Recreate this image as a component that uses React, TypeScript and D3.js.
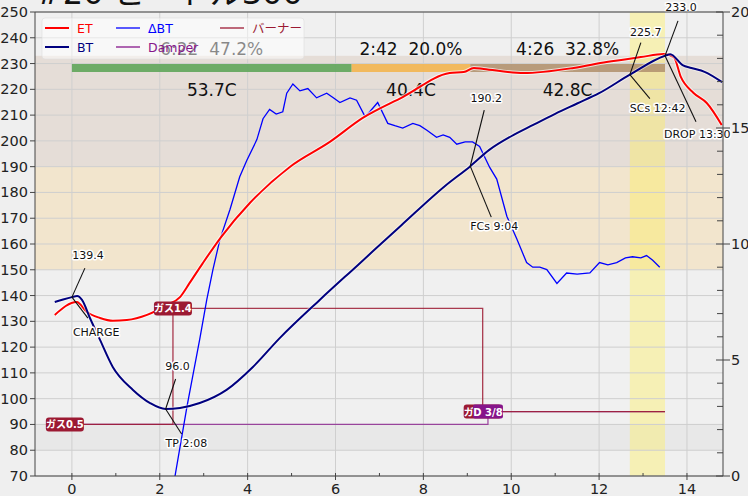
import React from 'react';
import * as d3 from 'd3';

// roast profile readings, [minutes, value]
const btPoints: [number, number][] = [
  [-0.39, 137.5], [-0.2, 138.5], [0.0, 139.4], [0.12, 139.8], [0.23, 138.3], [0.41, 131.3],
  [0.64, 122.8], [0.93, 112.3], [1.39, 103.4], [1.78, 98.3], [2.13, 96.0], [2.46, 96.4],
  [2.91, 98.3], [3.52, 103.4], [4.12, 112.3], [4.73, 123.5], [5.64, 138.3], [6.5, 151.7],
  [7.5, 167.3], [8.5, 182.6], [9.07, 190.2], [9.5, 196.5], [10.0, 201.8], [10.5, 206.2],
  [11.0, 210.5], [11.5, 214.5], [12.0, 218.5], [12.7, 225.7], [13.5, 233.0], [13.62, 233.6],
  [13.9, 229.4], [14.1, 228.3], [14.4, 226.8], [14.8, 222.8],
];

const etPoints: [number, number][] = [
  [-0.39, 132.5], [0.11, 137.5], [0.34, 133.6], [0.64, 131.3], [0.93, 130.2], [1.25, 130.5],
  [1.71, 132.5], [2.16, 136.3], [2.46, 139.4], [2.68, 144.9], [2.98, 152.6], [3.4, 162.8],
  [4.05, 175.9], [4.96, 189.9], [5.87, 199.6], [6.62, 208.9], [7.53, 217.0], [8.6, 226.3],
  [8.92, 226.7], [9.15, 228.3], [9.37, 227.9], [10.28, 226.3], [11.42, 228.3], [12.17, 230.6],
  [12.95, 232.5], [13.47, 233.7], [13.7, 232.5], [13.86, 224.8], [14.15, 218.6], [14.45, 214.7],
  [14.79, 206.2],
];

const rorPoints: [number, number][] = [
  [2.32, -0.3], [2.62, 3.0], [2.91, 5.9], [3.07, 7.6], [3.21, 8.9], [3.37, 10.2], [3.6, 11.5],
  [3.82, 12.9], [3.98, 13.6], [4.21, 14.5], [4.35, 15.4], [4.5, 15.8], [4.65, 15.6], [4.8, 15.7],
  [4.89, 16.5], [5.03, 16.9], [5.19, 16.6], [5.37, 16.7], [5.57, 16.3], [5.8, 16.5], [5.95, 16.3],
  [6.1, 16.1], [6.33, 16.3], [6.48, 16.2], [6.67, 15.5], [6.78, 15.7], [6.96, 16.1], [7.19, 15.2],
  [7.35, 15.1], [7.53, 15.0], [7.76, 15.2], [7.92, 15.1], [8.08, 14.9], [8.3, 14.6], [8.45, 14.7],
  [8.6, 14.6], [8.76, 14.3], [8.95, 14.4], [9.12, 14.4], [9.28, 14.2], [9.51, 13.3], [9.67, 12.8],
  [9.9, 11.2], [10.13, 10.2], [10.35, 9.2], [10.49, 9.0], [10.65, 9.0], [10.81, 8.9], [11.04, 8.3],
  [11.26, 8.75], [11.5, 8.7], [11.79, 8.75], [12.01, 9.2], [12.2, 9.1], [12.4, 9.2], [12.6, 9.4],
  [12.76, 9.45], [12.95, 9.4], [13.08, 9.5], [13.22, 9.3], [13.38, 9.0],
];

// events: [minutes, temperature]
const eventNames = ['CHARGE', 'TP 2:08', 'FCs 9:04', 'SCs 12:42', 'DROP 13:30'];
const eventTimes = [0, 2.133, 9.067, 12.7, 13.5];
const eventTemps = [139.4, 96.0, 190.2, 225.7, 233.0];

// burner (ガス) and damper steps
const burnerTimes = [-0.16, 2.3, 9.35];
const burnerValues = [0.5, 1.4, 0.6];
const burnerLabels = ['ガス0.5', 'ガス1.4', 'ガス0.6'];
const damperTimes = [-0.16, 9.47];
const damperLevels = [90, 95];
const damperLabels = ['', 'D 3/8'];

// phases
const phaseEnds = [0, 6.367, 9.067, 13.5];
const phaseDurations = ['6:22', '2:42', '4:26'];
const phasePercents = ['47.2%', '20.0%', '32.8%'];
const phaseRises = ['53.7C', '40.4C', '42.8C'];

const tempTicks = d3.range(70, 251, 10);
const timeTicks = [0, 2, 4, 6, 8, 10, 12, 14];
const rorTicks = [0, 5, 10, 15, 20];

const W = 748;
const H = 496;
const L = 35, R = 723, T = 12, B = 476;
const FONT = 'DejaVu Sans, Noto Sans CJK JP, sans-serif';

const BURNER = '#9c1a33';
const DAMPER = '#86158a';

// offsets of annotation texts from the event point (px)
const valueOffsets = [[16, -38, 13, -29], [12, -39, 10, -30], [16, -64, 14, -56], [16, -39, 11, -32], [16, -45, 13, -35]];
const nameOffsets = [[1, 39, 16, 21], [0, 38, 16, 25], [0, 64, 21, 51], [0, 37, 20, 24], [-1, 82, 31, 66]];

export default function App() {
  const x = d3.scaleLinear().domain([-0.84, 14.82]).range([L, R]);
  const y = d3.scaleLinear().domain([70, 250]).range([B, T]);
  const yR = d3.scaleLinear().domain([0, 20]).range([B, T]);

  const smooth = d3.line<[number, number]>().x(d => x(d[0])).y(d => y(d[1])).curve(d3.curveMonotoneX);
  const rorLine = d3.line<[number, number]>().x(d => x(d[0])).y(d => yR(d[1]));
  const step = d3.line<[number, number]>().x(d => x(d[0])).y(d => y(d[1])).curve(d3.curveStepAfter);

  const burnerTemp = (v: number) => 65 + 50 * v;
  const burnerPath: [number, number][] = burnerTimes.map((t, i) => [t, burnerTemp(burnerValues[i])]);
  burnerPath.push([13.5, burnerTemp(burnerValues[burnerValues.length - 1])]);
  const damperPath: [number, number][] = damperTimes.map((t, i) => [t, damperLevels[i]]);
  damperPath.push([13.5, damperLevels[damperLevels.length - 1]]);

  const halo = { paintOrder: 'stroke' as const, stroke: '#fff', strokeWidth: 3, strokeLinejoin: 'round' as const };
  const phaseColors = ['#5fa55a', '#f3b550', '#b39471'];

  return (
    <svg width={W} height={H} style={{ position: 'absolute', left: 0, top: 0, background: '#efefef' }} fontFamily={FONT}>
      <defs>
        <clipPath id="plot">
          <rect x={L} y={T} width={R - L} height={B - T} />
        </clipPath>
      </defs>
      <text x={36} y={4} fontSize={32} fill="#111">#20 ビートル300</text>

      <rect x={L} y={T} width={R - L} height={B - T} fill="#f0f0f0" />
      <rect x={L} y={y(90)} width={R - L} height={y(80) - y(90)} fill="#e8e8e8" />
      <rect x={L} y={y(190)} width={R - L} height={y(150) - y(190)} fill="#f2e5cd" />
      <rect x={L} y={y(233)} width={R - L} height={y(190) - y(233)} fill="#e5ddd7" />
      <rect x={x(12.7)} y={T} width={x(13.5) - x(12.7)} height={B - T} fill="#ffee55" fillOpacity={0.38} />

      {tempTicks.map(t => (
        <line key={'gy' + t} x1={L} x2={R} y1={y(t)} y2={y(t)} stroke="#cfcfcf" strokeWidth={1} />
      ))}
      {timeTicks.map(t => (
        <line key={'gx' + t} x1={x(t)} x2={x(t)} y1={T} y2={B} stroke="#cfcfcf" strokeWidth={1} />
      ))}

      {phaseDurations.map((d, i) => {
        const cx = (x(phaseEnds[i]) + x(phaseEnds[i + 1])) / 2;
        return (
          <g key={'ph' + i}>
            <rect x={x(phaseEnds[i])} y={64} width={x(phaseEnds[i + 1]) - x(phaseEnds[i])} height={8} fill={phaseColors[i]} fillOpacity={0.9} />
            <text x={cx} y={55} fontSize={17} textAnchor="middle" fill="#111">{d}{'\u00a0\u00a0'}{phasePercents[i]}</text>
            <text x={cx} y={96} fontSize={17} textAnchor="middle" fill="#111">{phaseRises[i]}</text>
          </g>
        );
      })}

      <g clipPath="url(#plot)">
        <path d={step(damperPath) || ''} fill="none" stroke={DAMPER} strokeWidth={1.3} strokeOpacity={0.75} />
        <path d={step(burnerPath) || ''} fill="none" stroke={BURNER} strokeWidth={1.3} strokeOpacity={0.85} />
        <path d={rorLine(rorPoints) || ''} fill="none" stroke="#0000ff" strokeWidth={1.3} />
        <path d={smooth(etPoints) || ''} fill="none" stroke="#fff" strokeWidth={4} strokeOpacity={0.7} />
        <path d={smooth(etPoints) || ''} fill="none" stroke="#ff0000" strokeWidth={2} />
        <path d={smooth(btPoints) || ''} fill="none" stroke="#fff" strokeWidth={4} strokeOpacity={0.5} />
        <path d={smooth(btPoints) || ''} fill="none" stroke="#00007f" strokeWidth={2} />
      </g>

      {burnerLabels.map((lab, i) => (
        <g key={'bl' + i} transform={`translate(${x(burnerTimes[i])},${y(burnerTemp(burnerValues[i]))})`}>
          <rect x={-19} y={-7} width={38} height={14} rx={3} fill={BURNER} />
          <text x={0} y={4} fontSize={10} fontWeight="bold" textAnchor="middle" fill="#fff">{lab}</text>
        </g>
      ))}
      {damperLabels.map((lab, i) => lab && (
        <g key={'dl' + i} transform={`translate(${x(damperTimes[i])},${y(damperLevels[i])})`}>
          <rect x={-15} y={-7} width={30} height={14} rx={2} fill={DAMPER} />
          <text x={0} y={4} fontSize={10} fontWeight="bold" textAnchor="middle" fill="#fff">{lab}</text>
        </g>
      ))}

      {eventNames.map((name, i) => {
        const px = x(eventTimes[i]);
        const py = y(eventTemps[i]);
        const [vx, vy, vlx, vly] = valueOffsets[i];
        const [nx, ny, nlx, nly] = nameOffsets[i];
        return (
          <g key={'ev' + i} fontSize={11} fill="#111">
            <line x1={px} y1={py} x2={px + vlx} y2={py + vly} stroke="#111" strokeWidth={1.1} />
            <line x1={px} y1={py} x2={px + nlx} y2={py + nly} stroke="#111" strokeWidth={1.1} />
            <text x={px + vx} y={py + vy} textAnchor="middle" style={halo}>{eventTemps[i].toFixed(1)}</text>
            <text x={px + nx} y={py + ny} style={halo}>{name}</text>
          </g>
        );
      })}

      {/* legend */}
      <g>
        <rect x={42} y={18} width={262} height={41} rx={3} fill="#fff" fillOpacity={0.5} stroke="#ddd" strokeOpacity={0.6} />
        {[
          { label: 'ET', color: '#ff0000', lx: 45, ly: 28, w: 2 },
          { label: 'BT', color: '#00007f', lx: 45, ly: 47, w: 2 },
          { label: 'ΔBT', color: '#0000ff', lx: 116, ly: 28, w: 1.3 },
          { label: 'Damper', color: DAMPER, lx: 116, ly: 47, w: 1.3 },
          { label: 'バーナー', color: BURNER, lx: 220, ly: 28, w: 1.3 },
        ].map(e => (
          <g key={e.label}>
            <line x1={e.lx} x2={e.lx + 24} y1={e.ly} y2={e.ly} stroke={e.color} strokeWidth={e.w} />
            <text x={e.lx + 32} y={e.ly + 4.5} fontSize={12.5} fill={e.color}>{e.label}</text>
          </g>
        ))}
      </g>

      {/* axes */}
      <g stroke="#444" strokeWidth={1} fill="none">
        <line x1={L} x2={R} y1={T} y2={T} />
        <line x1={L} x2={R} y1={B} y2={B} />
        <line x1={L} x2={L} y1={T} y2={B} />
        <line x1={R} x2={R} y1={T} y2={B} />
        {tempTicks.map(t => <line key={'ty' + t} x1={L - 5} x2={L} y1={y(t)} y2={y(t)} />)}
        {d3.range(0, 15).map(t => (
          <line key={'tx' + t} x1={x(t)} x2={x(t)} y1={B - 3} y2={t % 2 === 0 ? B + 4 : B} />
        ))}
        {d3.range(0, 21).map(v => (
          <line key={'tr' + v} x1={R - (v % 5 === 0 ? 7 : 6)} x2={v % 5 === 0 ? R + 7 : R} y1={yR(v)} y2={yR(v)} />
        ))}
      </g>
      <g fontSize={14.5} fill="#222">
        {tempTicks.map(t => (
          <text key={'ly' + t} x={L - 7} y={y(t) + 5} textAnchor="end">{t}</text>
        ))}
        {timeTicks.map(t => (
          <text key={'lx' + t} x={x(t)} y={494} textAnchor="middle">{t}</text>
        ))}
        {rorTicks.map(v => (
          <text key={'lr' + v} x={731} y={yR(v) + 5}>{v}</text>
        ))}
      </g>
    </svg>
  );
}
